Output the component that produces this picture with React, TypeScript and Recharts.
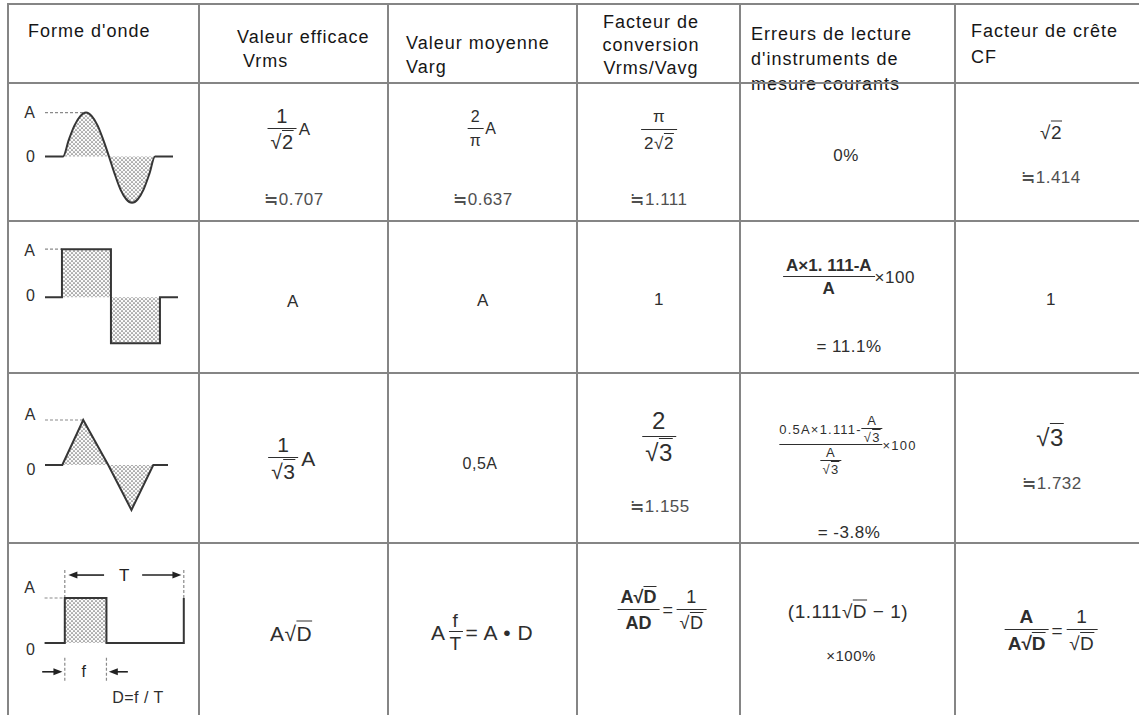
import React from "react";
import {
  ComposedChart,
  Area,
  Line,
  XAxis,
  YAxis,
  ReferenceLine,
  ReferenceDot,
} from "recharts";

// ---- data ----------------------------------------------------------------

const headerLines = [
  ["Forme d'onde"],
  ["Valeur efficace", " Vrms"],
  ["Valeur moyenne", "Varg"],
  ["Facteur de", "conversion", "Vrms/Vavg"],
  ["Erreurs de lecture", "d'instruments de", "mesure courants"],
  ["Facteur de crête", "CF"],
];

// level ticks of the waveform sketches
const levelTicks = [0, 1];
const levelNames = ["0", "A"];

const sineWave = [
  { t: -0.196, v: 0 },
  { t: 0, v: 0 },
  { t: 0.0625, v: 0.38 },
  { t: 0.125, v: 0.71 },
  { t: 0.1875, v: 0.92 },
  { t: 0.25, v: 1 },
  { t: 0.3125, v: 0.92 },
  { t: 0.375, v: 0.71 },
  { t: 0.4375, v: 0.38 },
  { t: 0.5, v: 0 },
  { t: 0.5625, v: -0.4 },
  { t: 0.625, v: -0.75 },
  { t: 0.6875, v: -0.97 },
  { t: 0.75, v: -1.05 },
  { t: 0.8125, v: -0.97 },
  { t: 0.875, v: -0.75 },
  { t: 0.9375, v: -0.4 },
  { t: 1, v: 0 },
  { t: 1.196, v: 0 },
];

const squareWave = [
  { t: -0.173, v: 0 },
  { t: 0, v: 0 },
  { t: 0, v: 1 },
  { t: 0.5, v: 1 },
  { t: 0.5, v: -0.96 },
  { t: 1, v: -0.96 },
  { t: 1, v: 0 },
  { t: 1.184, v: 0 },
];

const triangleWave = [
  { t: -0.19, v: 0 },
  { t: 0, v: 0 },
  { t: 0.23, v: 1 },
  { t: 0.505, v: 0 },
  { t: 0.76, v: -1 },
  { t: 1, v: 0 },
  { t: 1.165, v: 0 },
];

const dutyF = 0.35;
const pulseWave = [
  { t: -0.17, v: 0 },
  { t: 0, v: 0 },
  { t: 0, v: 1 },
  { t: dutyF, v: 1 },
  { t: dutyF, v: 0 },
  { t: 1, v: 0 },
  { t: 1, v: 1 },
];

const rmsApprox = ["≒0.707", "≒0.637", "≒1.111", "≒1.414"];
const triApprox = ["≒1.155", "≒1.732"];
const errorResults = ["0%", "= 11.1%", "= -3.8%"];

// ---- styles --------------------------------------------------------------

const FONT = '"Liberation Sans", Arial, Helvetica, sans-serif';
const HEAD_INK = "#161616";
const INK = "#2e2e2e";
const SOFT = "#505050";
const RULE = "#858585";
const WAVE = "#363636";
const AXIS_W = 40;

const colRules = [8, 199, 388, 577, 740, 955];
const rowRules = [4, 83, 221, 373, 543];

const headerLayout = [
  { x: 28, y: 31, gap: 24, center: false },
  { x: 237, y: 37, gap: 24, center: false },
  { x: 406, y: 43, gap: 24, center: false },
  { x: 651, y: 22, gap: 23, center: true },
  { x: 751, y: 34, gap: 25, center: false },
  { x: 971, y: 31, gap: 26, center: false },
];

// ---- small typesetting helpers -------------------------------------------

const At = ({ cx, cy, size = 17, color = INK, style, children }: any) => (
  <div
    style={{
      position: "absolute",
      left: cx,
      top: cy,
      transform: "translate(-50%, -50%)",
      display: "flex",
      alignItems: "center",
      whiteSpace: "nowrap",
      fontSize: size,
      lineHeight: 1,
      color,
      letterSpacing: 0.5,
      ...style,
    }}
  >
    {children}
  </div>
);

const Frac = ({ num, den, gap = 1, pad = 3, size, style }: any) => (
  <span
    style={{
      display: "inline-flex",
      flexDirection: "column",
      alignItems: "center",
      fontSize: size,
      ...style,
    }}
  >
    <span style={{ padding: `0 ${pad}px ${gap}px` }}>{num}</span>
    <span style={{ alignSelf: "stretch", borderTop: "1.4px solid currentColor" }} />
    <span style={{ padding: `${gap + 1}px ${pad}px 0` }}>{den}</span>
  </span>
);

const Sqrt = ({ children }: any) => (
  <span style={{ display: "inline-flex" }}>
    <span>√</span>
    <span style={{ textDecoration: "overline", textDecorationThickness: 1.2 }}>
      {children}
    </span>
  </span>
);

const arrowShape = (p: any) => {
  const { x1, y1, x2, y2 } = p;
  const dir = x2 > x1 ? 1 : -1;
  return (
    <g>
      <line x1={x1} y1={y1} x2={x2 - dir * 5} y2={y2} stroke="#222" strokeWidth={1.6} />
      <polygon
        points={`${x2},${y2} ${x2 - dir * 9},${y2 - 3.5} ${x2 - dir * 9},${y2 + 3.5}`}
        fill="#222"
      />
    </g>
  );
};

const dash = { stroke: "#8a8a8a", strokeWidth: 1.2, strokeDasharray: "3 2" };

// ---- waveform sketch -----------------------------------------------------

type WaveProps = {
  id: string;
  data: { t: number; v: number }[];
  plotLeft: number;
  zeroY: number;
  unitX: number;
  unitY: number;
  xDomain: [number, number];
  yDomain: [number, number];
  curve: "linear" | "monotone";
  labelDy: number[];
  children?: React.ReactNode;
};

const WaveChart = ({
  id,
  data,
  plotLeft,
  zeroY,
  unitX,
  unitY,
  xDomain,
  yDomain,
  curve,
  labelDy,
  children,
}: WaveProps) => {
  const w = (xDomain[1] - xDomain[0]) * unitX;
  const h = (yDomain[1] - yDomain[0]) * unitY;
  const top = zeroY - yDomain[1] * unitY;
  return (
    <div style={{ position: "absolute", left: plotLeft - AXIS_W, top }}>
      <ComposedChart
        width={w + AXIS_W}
        height={h}
        data={data}
        margin={{ top: 0, right: 0, bottom: 0, left: 0 }}
        style={{ overflow: "visible" }}
      >
        <defs>
          <pattern id={id} width="4" height="4" patternUnits="userSpaceOnUse">
            <rect width="4" height="4" fill="#fafafa" />
            <circle cx="1" cy="1" r="0.85" fill="#707070" />
            <circle cx="3" cy="3" r="0.85" fill="#707070" />
          </pattern>
        </defs>
        <XAxis type="number" dataKey="t" domain={xDomain} hide />
        <YAxis
          type="number"
          domain={yDomain}
          ticks={levelTicks}
          interval={0}
          width={AXIS_W}
          axisLine={false}
          tickLine={false}
          tickSize={0}
          tickMargin={plotLeft - 35}
          tick={(p: any) => (
            <text
              x={p.x}
              y={p.y + labelDy[levelTicks.indexOf(p.payload.value)]}
              textAnchor="end"
              dominantBaseline="central"
              fontSize={16}
              fontFamily={FONT}
              fill={INK}
            >
              {levelNames[levelTicks.indexOf(p.payload.value)]}
            </text>
          )}
        />
        <Area
          dataKey="v"
          type={curve}
          stroke="none"
          fill={`url(#${id})`}
          fillOpacity={1}
          baseValue={0}
          isAnimationActive={false}
        />
        {children}
        <Line
          dataKey="v"
          type={curve}
          stroke={WAVE}
          strokeWidth={2}
          dot={false}
          isAnimationActive={false}
        />
      </ComposedChart>
    </div>
  );
};

// ---- page ----------------------------------------------------------------

export default function App() {
  return (
    <div
      style={{
        position: "absolute",
        left: 0,
        top: 0,
        width: 1139,
        height: 715,
        overflow: "hidden",
        background: "#fff",
        fontFamily: FONT,
      }}
    >
      {/* header */}
      {headerLines.map((lines, i) =>
        lines.map((line, j) => (
          <div
            key={`h${i}-${j}`}
            style={{
              position: "absolute",
              left: headerLayout[i].x,
              top: headerLayout[i].y + j * headerLayout[i].gap,
              transform: headerLayout[i].center
                ? "translate(-50%, -50%)"
                : "translate(0, -50%)",
              fontSize: 18,
              lineHeight: 1,
              letterSpacing: 1,
              whiteSpace: "pre",
              color: HEAD_INK,
            }}
          >
            {line}
          </div>
        ))
      )}

      {/* waveforms */}
      <WaveChart
        id="dots-sine"
        data={sineWave}
        plotLeft={45}
        zeroY={157}
        unitX={92}
        unitY={44}
        xDomain={[-0.196, 1.196]}
        yDomain={[-1.25, 1.4]}
        curve="monotone"
        labelDy={[0, 0]}
      >
        <ReferenceLine segment={[{ x: -0.196, y: 1 }, { x: 0.25, y: 1 }]} {...dash} />
      </WaveChart>
      <WaveChart
        id="dots-square"
        data={squareWave}
        plotLeft={45}
        zeroY={297}
        unitX={98}
        unitY={48}
        xDomain={[-0.173, 1.184]}
        yDomain={[-1.2, 1.4]}
        curve="linear"
        labelDy={[-2, 1]}
      >
        <ReferenceLine segment={[{ x: -0.173, y: 1 }, { x: 0, y: 1 }]} {...dash} />
      </WaveChart>
      <WaveChart
        id="dots-tri"
        data={triangleWave}
        plotLeft={44.7}
        zeroY={465}
        unitX={91}
        unitY={45}
        xDomain={[-0.19, 1.165]}
        yDomain={[-1.25, 1.4]}
        curve="linear"
        labelDy={[5, -5]}
      >
        <ReferenceLine segment={[{ x: -0.19, y: 1 }, { x: 0.23, y: 1 }]} {...dash} />
      </WaveChart>
      <WaveChart
        id="dots-pulse"
        data={pulseWave}
        plotLeft={41.2}
        zeroY={643}
        unitX={119}
        unitY={45}
        xDomain={[-0.2, 1.02]}
        yDomain={[-1.25, 1.8]}
        curve="linear"
        labelDy={[7, -10]}
      >
        <ReferenceLine segment={[{ x: -0.17, y: 1 }, { x: 0, y: 1 }]} {...dash} />
        <ReferenceLine segment={[{ x: 0, y: 1 }, { x: 0, y: 1.62 }]} {...dash} />
        <ReferenceLine segment={[{ x: 1, y: 1 }, { x: 1, y: 1.62 }]} {...dash} />
        <ReferenceLine segment={[{ x: 0, y: -0.33 }, { x: 0, y: -0.87 }]} {...dash} />
        <ReferenceLine segment={[{ x: dutyF, y: -0.33 }, { x: dutyF, y: -0.87 }]} {...dash} />
        <ReferenceLine segment={[{ x: 0.33, y: 1.51 }, { x: 0.03, y: 1.51 }]} shape={arrowShape} />
        <ReferenceLine segment={[{ x: 0.65, y: 1.51 }, { x: 0.98, y: 1.51 }]} shape={arrowShape} />
        <ReferenceLine segment={[{ x: -0.19, y: -0.64 }, { x: -0.02, y: -0.64 }]} shape={arrowShape} />
        <ReferenceLine segment={[{ x: 0.53, y: -0.64 }, { x: 0.37, y: -0.64 }]} shape={arrowShape} />
        <ReferenceDot
          x={0.5}
          y={1.51}
          r={0}
          stroke="none"
          label={{ value: "T", position: "center", fontSize: 17, fill: "#222", fontFamily: FONT }}
        />
        <ReferenceDot
          x={0.16}
          y={-0.64}
          r={0}
          stroke="none"
          label={{ value: "f", position: "center", fontSize: 16, fill: "#222", fontFamily: FONT }}
        />
      </WaveChart>
      <At cx={138} cy={698} size={16}>D=f / T</At>

      {/* row 1 : sine */}
      <At cx={289} cy={129} size={20}>
        <Frac num="1" den={<Sqrt>2</Sqrt>} gap={2} />
        <span style={{ fontSize: 17, marginLeft: 2 }}>A</span>
      </At>
      <At cx={294} cy={199} color={SOFT}>{rmsApprox[0]}</At>
      <At cx={482} cy={129} size={16}>
        <Frac num="2" den="π" gap={3} pad={2} />
        <span style={{ marginLeft: 2 }}>A</span>
      </At>
      <At cx={483} cy={199} color={SOFT}>{rmsApprox[1]}</At>
      <At cx={659} cy={130} size={17}>
        <Frac num="π" den={<span>2<Sqrt>2</Sqrt></span>} gap={4} />
      </At>
      <At cx={659} cy={199} color={SOFT}>{rmsApprox[2]}</At>
      <At cx={846} cy={155}>{errorResults[0]}</At>
      <At cx={1051} cy={132} size={19}>
        <Sqrt>2</Sqrt>
      </At>
      <At cx={1051} cy={177} color={SOFT}>{rmsApprox[3]}</At>

      {/* row 2 : square */}
      <At cx={293} cy={301}>A</At>
      <At cx={483} cy={300}>A</At>
      <At cx={659} cy={299}>1</At>
      <At cx={849} cy={277}>
        <Frac
          num={<span style={{ fontWeight: 700, letterSpacing: 0 }}>A×1. 111-A</span>}
          den={<span style={{ fontWeight: 700 }}>A</span>}
          gap={2}
          pad={3}
        />
        <span>×100</span>
      </At>
      <At cx={849} cy={346}>{errorResults[1]}</At>
      <At cx={1051} cy={299}>1</At>

      {/* row 3 : triangle */}
      <At cx={292} cy={458} size={21}>
        <Frac num="1" den={<Sqrt>3</Sqrt>} gap={2} />
        <span style={{ marginLeft: 3 }}>A</span>
      </At>
      <At cx={480} cy={464} size={16}>0,5A</At>
      <At cx={659} cy={437} size={24}>
        <Frac num="2" den={<Sqrt>3</Sqrt>} gap={3} />
      </At>
      <At cx={660} cy={506} color={SOFT}>{triApprox[0]}</At>
      <At cx={848} cy={445} size={13} style={{ letterSpacing: 1.2 }}>
        <Frac
          num={
            <span style={{ display: "inline-flex", alignItems: "center" }}>
              0.5A×1.111-
              <Frac num="A" den={<Sqrt>3</Sqrt>} gap={1} pad={2} />
            </span>
          }
          den={<Frac num="A" den={<Sqrt>3</Sqrt>} gap={1} pad={2} />}
          gap={0}
          pad={0}
        />
        <span>×100</span>
      </At>
      <At cx={849} cy={532}>{errorResults[2]}</At>
      <At cx={1050} cy={438} size={24}>
        <Sqrt>3</Sqrt>
      </At>
      <At cx={1052} cy={483} color={SOFT}>{triApprox[1]}</At>

      {/* row 4 : pulse */}
      <At cx={291} cy={633} size={21}>
        A<Sqrt>D</Sqrt>
      </At>
      <At cx={482} cy={632} size={21}>
        <span style={{ marginRight: 3 }}>A</span>
        <Frac num="f" den="T" size={19} gap={1} pad={1} />
        <span style={{ marginLeft: 3 }}>= A • D</span>
      </At>
      <At cx={662} cy={610} size={18}>
        <Frac
          num={<span style={{ fontWeight: 700, letterSpacing: 0 }}>A<Sqrt>D</Sqrt></span>}
          den={<span style={{ fontWeight: 700, letterSpacing: 0 }}>AD</span>}
          gap={3}
        />
        <span style={{ margin: "0 3px" }}>=</span>
        <Frac num="1" den={<Sqrt>D</Sqrt>} gap={3} />
      </At>
      <At cx={848} cy={611} size={19}>
        (1.111<Sqrt>D</Sqrt>&nbsp;− 1)
      </At>
      <At cx={851} cy={655} size={15}>×100%</At>
      <At cx={1051} cy={630} size={19}>
        <Frac
          num={<span style={{ fontWeight: 700 }}>A</span>}
          den={<span style={{ fontWeight: 700, letterSpacing: 0 }}>A<Sqrt>D</Sqrt></span>}
          gap={3}
        />
        <span style={{ margin: "0 3px" }}>=</span>
        <Frac num="1" den={<Sqrt>D</Sqrt>} gap={3} />
      </At>

      {/* table rules drawn last */}
      {colRules.map((x) => (
        <div
          key={`c${x}`}
          style={{ position: "absolute", left: x - 1, top: rowRules[0] - 1, width: 2, height: 715, background: RULE }}
        />
      ))}
      {rowRules.map((y) => (
        <div
          key={`r${y}`}
          style={{ position: "absolute", left: colRules[0] - 1, top: y - 1, width: 1139, height: 2, background: RULE }}
        />
      ))}
    </div>
  );
}
